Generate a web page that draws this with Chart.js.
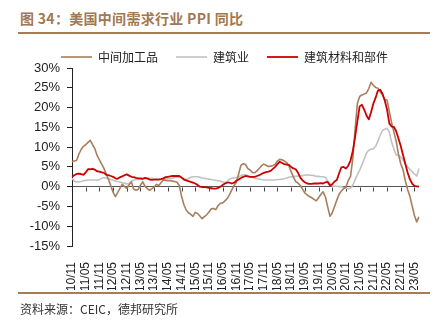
<!DOCTYPE html>
<html>
<head>
<meta charset="utf-8">
<script src="https://cdn.jsdelivr.net/npm/chart.js@4"></script>
<style>
  html, body { margin: 0; padding: 0; background: #fff; }
  #wrap { position: relative; width: 444px; height: 322px; overflow: hidden; }
  #chart { position: absolute; left: 0; top: 0; }
  .title { position: absolute; left: 20px; top: 8px; font: bold 14px "Noto Sans CJK SC", "Liberation Sans", sans-serif; color: #a27852; white-space: nowrap; letter-spacing: 0.3px; }
  .rule { position: absolute; left: 18px; width: 412px; height: 2px; background: #a67c56; }
  .source { position: absolute; left: 20px; top: 300px; font: 12px "Noto Sans CJK SC", "Liberation Sans", sans-serif; color: #333; white-space: nowrap; }
</style>
</head>
<body>
<div id="wrap">
  <div class="title">图 34：美国中间需求行业 PPI 同比</div>
  <div class="rule" style="top:32px"></div>
  <canvas id="chart" width="444" height="322"></canvas>
  <div class="rule" style="top:292px"></div>
  <div class="source">资料来源：CEIC，德邦研究所</div>
</div>
<script>
// Monthly categories, 2010-11 .. 2023-07, labelled "YY/MM"
const firstYear = 2010, firstMonth = 11, monthCount = 153;
const months = [];
for (let i = 0; i < monthCount; i++) {
  const m0 = firstMonth - 1 + i;
  const yy = String((firstYear + Math.floor(m0 / 12)) % 100).padStart(2, '0');
  const mm = String(m0 % 12 + 1).padStart(2, '0');
  months.push(yy + '/' + mm);
}

// YoY PPI, %
const intermediateGoods = [
  6.3, 6.5,
  6.6, 8.2, 9.4, 10.2, 10.6, 11.2, 11.7, 10.6, 9.6, 7.9, 6.8, 5.7,
  4.6, 3.2, 1.8, 0.2, -1.4, -2.5, -1.5, -0.4, 0.6, 0.0, -0.4, 0.5,
  1.2, -0.6, -0.9, -0.7, 0.4, 1.2, 0.1, -0.5, -0.9, -0.5, -0.1, 0.6,
  0.3, 1.0, 1.7, 1.6, 1.5, 1.5, 1.4, 1.3, 1.1, 0.3, -2.5, -4.5,
  -5.9, -6.6, -7.0, -7.5, -6.5, -6.8, -7.4, -8.1, -7.6, -7.1, -6.4, -5.6,
  -5.5, -5.8, -4.8, -4.2, -4.1, -3.6, -3.0, -2.0, -0.8, 0.3, 1.1, 3.2,
  5.4, 5.8, 5.6, 4.6, 4.2, 3.6, 3.5, 4.0, 4.6, 5.3, 5.7, 5.4,
  5.1, 5.2, 5.3, 5.7, 6.5, 6.9, 6.8, 6.5, 6.1, 5.3, 3.8, 2.4,
  1.3, 0.9, 0.3, -0.6, -1.6, -2.1, -2.5, -2.8, -3.2, -3.6, -2.8, -2.0,
  -1.3, -2.6, -5.1, -7.5, -6.6, -5.0, -3.4, -1.9, -1.1, -0.5, 0.0, 1.5,
  2.6, 7.0, 14.5, 21.0, 22.8, 23.2, 23.4, 23.7, 24.8, 26.4, 25.6, 25.1,
  24.9, 24.0, 23.2, 22.0, 21.9, 19.0, 16.2, 13.8, 11.5, 8.2, 5.8, 4.3,
  1.5, -0.7, -2.4, -4.9, -7.3, -8.9, -7.6
];
const construction = [
  2.1, 1.4,
  1.2, 1.2, 1.3, 1.5, 1.6, 1.7, 1.7, 1.7, 1.7, 1.6, 1.8, 2.1,
  2.3, 2.2, 2.0, 1.8, 1.6, 1.4, 1.3, 1.2, 1.0, 0.9, 0.7, 0.8,
  1.4, 1.6, 1.8, 1.8, 1.9, 1.9, 2.0, 2.0, 2.1, 2.1, 2.0, 2.0,
  1.9, 1.8, 1.8, 1.9, 2.0, 2.0, 2.1, 2.3, 2.4, 2.4, 2.3, 2.1,
  1.8, 2.0, 2.4, 2.5, 2.5, 2.5, 2.4, 2.2, 2.1, 2.0, 1.9, 1.8,
  1.7, 1.6, 1.5, 1.4, 1.2, 1.0, 1.3, 1.9, 2.1, 2.2, 2.3, 2.5,
  2.8, 3.0, 3.0, 2.8, 2.5, 2.3, 2.2, 2.0, 1.9, 1.8, 1.7, 1.7,
  1.7, 1.7, 1.7, 1.7, 1.8, 1.8, 1.9, 2.0, 2.2, 2.4, 2.5, 2.6,
  2.6, 2.7, 2.8, 2.8, 2.9, 3.0, 2.9, 2.9, 2.8, 2.6, 2.6, 2.5,
  2.5, 2.4, 1.4, 0.8, 0.2, 0.1, 0.1, 0.0, 0.0, -0.2, -0.4, -0.5,
  -0.4, 0.4, 1.7, 3.0, 4.2, 5.5, 7.0, 8.5, 9.2, 9.5, 9.6, 10.2,
  11.5, 13.0, 14.2, 14.5, 14.8, 13.8, 11.2, 9.5, 8.0, 8.0, 7.5, 6.8,
  5.6, 5.0, 4.4, 3.8, 3.2, 2.7, 4.6
];
const buildingMaterials = [
  2.5, 2.9,
  3.2, 3.3, 3.2, 3.0, 3.6, 4.4, 4.4, 4.5, 4.3, 3.9, 3.8, 3.6,
  3.5, 3.0, 2.9, 2.7, 2.5, 2.1, 2.0, 2.4, 2.6, 2.9, 3.1, 2.8,
  2.5, 2.4, 2.2, 2.1, 2.1, 2.0, 2.2, 2.1, 1.8, 1.7, 1.8, 1.8,
  1.8, 1.9, 2.1, 2.4, 2.5, 2.6, 2.7, 2.7, 2.7, 2.7, 2.3, 1.8,
  1.6, 1.4, 1.2, 1.0, 0.8, 0.4, 0.0, -0.1, -0.1, -0.2, -0.3, -0.4,
  -0.5, -0.5, -0.3, 0.0, 0.4, 0.8, 1.0, 1.0, 0.8, 1.0, 1.5, 1.8,
  2.2, 2.5, 2.7, 2.6, 2.5, 2.5, 2.5, 2.7, 2.9, 3.2, 3.5, 3.7,
  3.8, 4.0, 4.5, 5.0, 5.7, 6.3, 6.0, 5.7, 5.6, 5.5, 5.0, 4.6,
  4.4, 3.5, 2.3, 1.6, 1.1, 0.8, 0.7, 0.7, 0.8, 0.8, 0.8, 0.9,
  0.8, 1.1, 1.2, 0.3, 0.6, 1.3, 1.7, 3.4, 4.9, 5.0, 4.6, 5.3,
  6.6, 9.0, 12.5, 16.5, 20.3, 20.7, 19.5, 18.0, 17.0, 18.8, 21.0, 22.5,
  24.3, 24.5, 23.5, 21.8, 19.5, 16.0, 15.2, 15.1, 14.0, 12.2, 10.3, 8.0,
  5.8, 3.6, 1.9, 0.8, 0.2, 0.1, 0.0
];

const seriesNames = ['中间加工品', '建筑业', '建筑材料和部件'];
const yTicks = { min: -15, max: 30, step: 5 };
const labelEvery = 6;

// short tick marks hanging below the zero line, one per labelled month
const zeroLineTicks = {
  id: 'zeroLineTicks',
  beforeDatasetsDraw(chart) {
    const { ctx, scales: { x, y } } = chart;
    const y0 = Math.round(y.getPixelForValue(0)) + 0.5;
    ctx.save();
    ctx.strokeStyle = '#444';
    ctx.lineWidth = 1;
    ctx.beginPath();
    months.forEach((m, i) => {
      if (i % labelEvery === 0 && i > 0) {
        const px = Math.round(x.getPixelForValue(i)) + 0.5;
        ctx.moveTo(px, y0);
        ctx.lineTo(px, y0 + 4);
      }
    });
    ctx.stroke();
    ctx.restore();
  }
};

// keep the legend band at a fixed height
const legendHeight = {
  id: 'legendHeight',
  beforeInit(chart) {
    const fit = chart.legend.fit;
    chart.legend.fit = function () {
      fit.call(this);
      this.height = 35;
    };
  }
};

new Chart(document.getElementById('chart'), {
  type: 'line',
  data: {
    labels: months,
    datasets: [
      { label: seriesNames[0], data: intermediateGoods, borderColor: '#a87f5e', backgroundColor: '#a87f5e', borderWidth: 1.6, order: 2 },
      { label: seriesNames[1], data: construction, borderColor: '#c2c2c2', backgroundColor: '#c2c2c2', borderWidth: 1.6, order: 3 },
      { label: seriesNames[2], data: buildingMaterials, borderColor: '#cc0000', backgroundColor: '#cc0000', borderWidth: 1.8, order: 1 }
    ]
  },
  options: {
    responsive: false,
    animation: false,
    events: [],
    elements: { point: { radius: 0 }, line: { tension: 0, borderJoinStyle: 'round' } },
    layout: { padding: { top: 33, left: 30, right: 25, bottom: 32 } },
    plugins: {
      tooltip: { enabled: false },
      legend: {
        position: 'top',
        labels: {
          usePointStyle: true,
          pointStyle: 'line',
          pointStyleWidth: 31,
          padding: 18,
          color: '#222',
          font: { family: '"Noto Sans CJK SC", sans-serif', size: 12 },
          sort: (a, b) => a.datasetIndex - b.datasetIndex
        }
      }
    },
    scales: {
      x: {
        type: 'category',
        offset: false,
        grid: { display: false },
        border: { display: false },
        afterFit(s) { s.height = 44; },
        ticks: {
          autoSkip: false,
          maxRotation: 90,
          minRotation: 90,
          padding: 8,
          color: '#222',
          font: { family: '"Liberation Sans", Arial, sans-serif', size: 12 },
          callback(v, i) { return i % labelEvery === 0 ? months[i] : ''; }
        }
      },
      y: {
        min: yTicks.min,
        max: yTicks.max,
        afterFit(s) { s.width = 42; },
        border: { display: true, color: '#222', width: 1 },
        grid: {
          drawOnChartArea: true,
          drawTicks: true,
          tickLength: 5,
          tickColor: '#222',
          color: (c) => (c.tick && c.tick.value === 0 ? '#555' : 'rgba(0,0,0,0)')
        },
        ticks: {
          stepSize: yTicks.step,
          padding: 7,
          color: '#222',
          font: { family: '"Liberation Sans", Arial, sans-serif', size: 13 },
          callback: (v) => v + '%'
        }
      }
    }
  },
  plugins: [zeroLineTicks, legendHeight]
});
</script>
</body>
</html>
